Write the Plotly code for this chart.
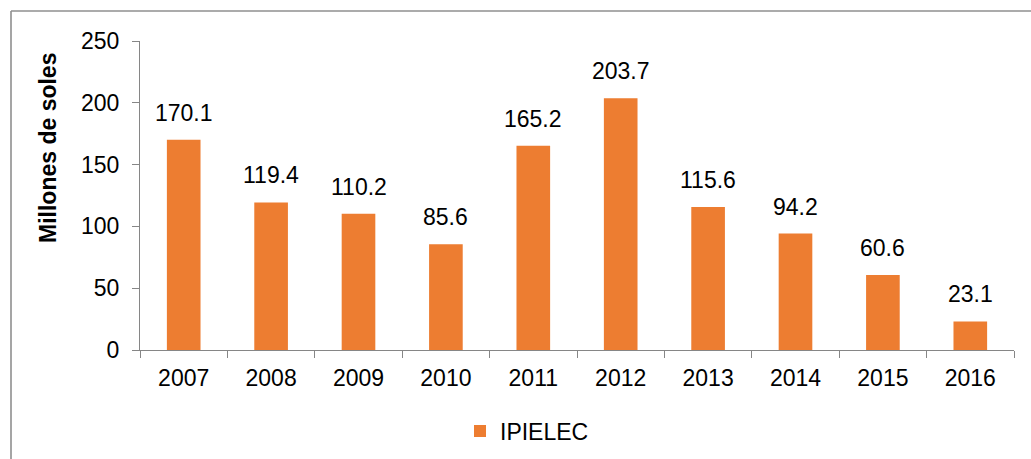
import plotly.graph_objects as go

# Annual amounts for the IPIELEC series (millions of soles)
years = ["2007", "2008", "2009", "2010", "2011", "2012", "2013", "2014", "2015", "2016"]
ipielec = [170.1, 119.4, 110.2, 85.6, 165.2, 203.7, 115.6, 94.2, 60.6, 23.1]
y_ticks = [0, 50, 100, 150, 200, 250]

BAR = "#ED7D31"
AXIS = "#868686"
FONT = "Liberation Sans, Arial, sans-serif"
FS = 23

W, H = 1031, 459
L, R, T, B = 140, 17, 41, 109
pw, ph = W - L - R, H - T - B


def px_x(x):
    """Pixel column -> paper x."""
    return (x - L) / pw


def px_y(y):
    """Pixel row -> paper y."""
    return (T + ph - y) / ph


fig = go.Figure()
fig.add_trace(go.Bar(
    x=years, y=ipielec, name="IPIELEC",
    marker=dict(color=BAR, line=dict(width=0)),
    width=0.385,
    hoverinfo="x+y",
))

# value labels above each bar (category index positions)
for i, v in enumerate(ipielec):
    fig.add_annotation(
        x=i, y=v, text=f"{v:.1f}", showarrow=False,
        yanchor="bottom", yshift=12,
        font=dict(family=FONT, size=FS, color="#000000"),
    )

# vertical axis title
fig.add_annotation(
    xref="paper", yref="paper", x=px_x(48), y=px_y(148),
    text="<b>Millones de soles</b>", textangle=-90, showarrow=False,
    xanchor="center", yanchor="middle",
    font=dict(family=FONT, size=FS, color="#000000"),
)

# chart-area frame (top and left edges)
fx, fy = px_x(11), px_y(11)
fig.add_shape(type="line", xref="paper", yref="paper",
              x0=fx, y0=fy, x1=px_x(W + 5), y1=fy,
              line=dict(color="#8f8f8f", width=1.6))
fig.add_shape(type="line", xref="paper", yref="paper",
              x0=fx, y0=fy, x1=fx, y1=px_y(H + 5),
              line=dict(color="#8f8f8f", width=1.6))

fig.update_layout(
    width=W, height=H,
    margin=dict(l=L, r=R, t=T, b=B, autoexpand=False),
    paper_bgcolor="white", plot_bgcolor="white",
    font=dict(family=FONT, size=FS, color="#000000"),
    showlegend=True,
    legend=dict(
        orientation="h", x=px_x(460), xanchor="left",
        y=px_y(431), yanchor="middle",
        font=dict(family=FONT, size=FS, color="#000000"),
        bgcolor="rgba(0,0,0,0)",
    ),
    xaxis=dict(
        type="category", range=[-0.5, len(years) - 0.5], showgrid=False,
        showline=True, linecolor=AXIS, linewidth=1.3,
        ticks="outside", tickson="boundaries", ticklen=7, tickcolor=AXIS, tickwidth=1.3,
        tickfont=dict(family=FONT, size=FS, color="#000000"),
        ticklabelstandoff=7,
    ),
    yaxis=dict(
        range=[0, 250], tickvals=y_ticks, showgrid=False, zeroline=False,
        showline=True, linecolor=AXIS, linewidth=1.3,
        ticks="outside", ticklen=7, tickcolor=AXIS, tickwidth=1.3,
        tickfont=dict(family=FONT, size=FS, color="#000000"),
        ticklabelstandoff=8,
    ),
)

fig.write_html("out.html")
